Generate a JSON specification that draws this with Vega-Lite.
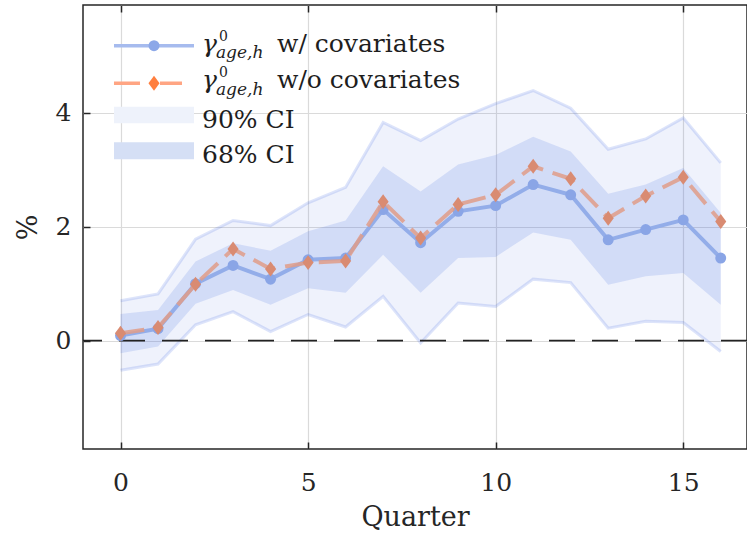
{
  "$schema": "https://vega.github.io/schema/vega-lite/v6.json",
  "width": 664,
  "height": 444,
  "autosize": {"type": "none"},
  "padding": {"left": 83, "top": 5, "right": 0, "bottom": 86},
  "background": "white",
  "config": {
    "view": {"stroke": "#262626", "strokeWidth": 1.5},
    "axis": {
      "labelFont": "DejaVu Serif", "labelFontSize": 25, "labelColor": "#262626",
      "titleFont": "DejaVu Serif", "titleFontSize": 27, "titleFontWeight": "normal", "titleColor": "#262626",
      "tickColor": "#262626", "tickWidth": 1.5, "tickSize": -7, "domain": false,
      "gridColor": "#dadada", "gridWidth": 1.2
    },
    "text": {"font": "DejaVu Serif", "fontSize": 25, "align": "left", "baseline": "alphabetic", "color": "#1e1e1e"}
  },
  "datasets": {
    "irf": [
      {"q": 0, "b": 0.09, "o": 0.13, "lo90": -0.52, "hi90": 0.70, "lo68": -0.22, "hi68": 0.47},
      {"q": 1, "b": 0.21, "o": 0.23, "lo90": -0.41, "hi90": 0.82, "lo68": -0.10, "hi68": 0.54},
      {"q": 2, "b": 1.00, "o": 0.99, "lo90": 0.28, "hi90": 1.78, "lo68": 0.65, "hi68": 1.39},
      {"q": 3, "b": 1.32, "o": 1.61, "lo90": 0.51, "hi90": 2.11, "lo68": 0.89, "hi68": 1.71},
      {"q": 4, "b": 1.08, "o": 1.26, "lo90": 0.16, "hi90": 2.02, "lo68": 0.63, "hi68": 1.58},
      {"q": 5, "b": 1.42, "o": 1.37, "lo90": 0.46, "hi90": 2.42, "lo68": 0.92, "hi68": 1.92},
      {"q": 6, "b": 1.45, "o": 1.40, "lo90": 0.24, "hi90": 2.69, "lo68": 0.84, "hi68": 2.11},
      {"q": 7, "b": 2.30, "o": 2.44, "lo90": 0.78, "hi90": 3.83, "lo68": 1.51, "hi68": 3.06},
      {"q": 8, "b": 1.72, "o": 1.80, "lo90": -0.04, "hi90": 3.51, "lo68": 0.84, "hi68": 2.62},
      {"q": 9, "b": 2.27, "o": 2.39, "lo90": 0.66, "hi90": 3.89, "lo68": 1.45, "hi68": 3.09},
      {"q": 10, "b": 2.37, "o": 2.56, "lo90": 0.60, "hi90": 4.16, "lo68": 1.47, "hi68": 3.26},
      {"q": 11, "b": 2.74, "o": 3.06, "lo90": 1.08, "hi90": 4.39, "lo68": 1.90, "hi68": 3.58},
      {"q": 12, "b": 2.56, "o": 2.84, "lo90": 1.02, "hi90": 4.08, "lo68": 1.77, "hi68": 3.32},
      {"q": 13, "b": 1.77, "o": 2.15, "lo90": 0.22, "hi90": 3.36, "lo68": 0.98, "hi68": 2.58},
      {"q": 14, "b": 1.95, "o": 2.54, "lo90": 0.34, "hi90": 3.54, "lo68": 1.13, "hi68": 2.74},
      {"q": 15, "b": 2.12, "o": 2.87, "lo90": 0.32, "hi90": 3.91, "lo68": 1.19, "hi68": 3.03},
      {"q": 16, "b": 1.45, "o": 2.09, "lo90": -0.19, "hi90": 3.12, "lo68": 0.63, "hi68": 2.24}
    ]
  },
  "layer": [
    {
      "data": {"name": "irf"},
      "mark": {"type": "area", "fill": "#4169e1", "fillOpacity": 0.085},
      "encoding": {
        "x": {"field": "q", "type": "quantitative",
          "scale": {"domain": [-1, 16.7], "nice": false, "zero": false},
          "axis": {"orient": "bottom", "values": [0, 5, 10, 15], "format": "d", "title": "Quarter", "grid": true, "labelPadding": 28, "titlePadding": 9}},
        "y": {"field": "lo90", "type": "quantitative",
          "scale": {"domain": [-1.9, 5.89], "nice": false, "zero": false},
          "axis": {"orient": "left", "values": [0, 2, 4], "format": "d", "title": "%", "grid": true, "labelPadding": 19, "titlePadding": 13}},
        "y2": {"field": "hi90"}
      }
    },
    {
      "data": {"name": "irf"},
      "mark": {"type": "line", "stroke": "#4169e1", "strokeOpacity": 0.18, "strokeWidth": 3},
      "encoding": {
        "x": {"field": "q", "type": "quantitative",
          "axis": {"orient": "top", "values": [0, 5, 10, 15], "labels": false, "title": null, "grid": false}},
        "y": {"field": "hi90", "type": "quantitative"}
      }
    },
    {
      "data": {"name": "irf"},
      "mark": {"type": "line", "stroke": "#4169e1", "strokeOpacity": 0.18, "strokeWidth": 3},
      "encoding": {
        "x": {"field": "q", "type": "quantitative", "axis": null},
        "y": {"field": "lo90", "type": "quantitative"}
      }
    },
    {
      "data": {"name": "irf"},
      "mark": {"type": "area", "fill": "#4169e1", "fillOpacity": 0.16},
      "encoding": {
        "x": {"field": "q", "type": "quantitative", "axis": null},
        "y": {"field": "lo68", "type": "quantitative"},
        "y2": {"field": "hi68"}
      }
    },
    {
      "data": {"values": [{}]},
      "mark": {"type": "rule", "stroke": "#222222", "strokeWidth": 1.8, "strokeDash": [26, 17]},
      "encoding": {
        "y": {"datum": 0, "type": "quantitative"}
      }
    },
    {
      "data": {"name": "irf"},
      "mark": {"type": "line", "stroke": "#93ade9", "strokeWidth": 4},
      "encoding": {
        "x": {"field": "q", "type": "quantitative", "axis": null},
        "y": {"field": "b", "type": "quantitative"}
      }
    },
    {
      "data": {"name": "irf"},
      "mark": {"type": "point", "shape": "circle", "filled": true, "fill": "#8aa5e6", "opacity": 1, "size": 120},
      "encoding": {
        "x": {"field": "q", "type": "quantitative", "axis": null},
        "y": {"field": "b", "type": "quantitative"}
      }
    },
    {
      "data": {"name": "irf"},
      "mark": {"type": "line", "stroke": "#e09c88", "strokeOpacity": 0.85, "strokeWidth": 4, "strokeDash": [24, 10]},
      "encoding": {
        "x": {"field": "q", "type": "quantitative", "axis": null},
        "y": {"field": "o", "type": "quantitative"}
      }
    },
    {
      "data": {"name": "irf"},
      "mark": {"type": "point", "shape": "M0,-1.15L0.85,0L0,1.15L-0.85,0Z", "filled": true, "fill": "#d98b72", "opacity": 1, "size": 170},
      "encoding": {
        "x": {"field": "q", "type": "quantitative", "axis": null},
        "y": {"field": "o", "type": "quantitative"}
      }
    },
    {
      "data": {"values": [{}]},
      "mark": {"type": "rect", "fill": "#eef2fb"},
      "encoding": {
        "x": {"datum": -0.174, "type": "quantitative", "axis": null}, "x2": {"datum": 1.959},
        "y": {"datum": 4.106, "type": "quantitative"}, "y2": {"datum": 3.815}
      }
    },
    {
      "data": {"values": [{}]},
      "mark": {"type": "rect", "fill": "#d5dff5"},
      "encoding": {
        "x": {"datum": -0.174, "type": "quantitative", "axis": null}, "x2": {"datum": 1.959},
        "y": {"datum": 3.481, "type": "quantitative"}, "y2": {"datum": 3.183}
      }
    },
    {
      "data": {"values": [{}]},
      "mark": {"type": "rule", "stroke": "#a6bbee", "strokeWidth": 3.5},
      "encoding": {
        "x": {"datum": -0.174, "type": "quantitative", "axis": null}, "x2": {"datum": 1.959},
        "y": {"datum": 5.176, "type": "quantitative"}
      }
    },
    {
      "data": {"values": [{}]},
      "mark": {"type": "point", "shape": "circle", "filled": true, "fill": "#8da8e8", "opacity": 1, "size": 120},
      "encoding": {
        "x": {"datum": 0.893, "type": "quantitative", "axis": null},
        "y": {"datum": 5.176, "type": "quantitative"}
      }
    },
    {
      "data": {"values": [{}]},
      "mark": {"type": "rule", "stroke": "#ffa583", "strokeWidth": 3.5, "strokeDash": [26, 20]},
      "encoding": {
        "x": {"datum": -0.174, "type": "quantitative", "axis": null}, "x2": {"datum": 1.639},
        "y": {"datum": 4.516, "type": "quantitative"}
      }
    },
    {
      "data": {"values": [{}]},
      "mark": {"type": "point", "shape": "M0,-1.15L0.85,0L0,1.15L-0.85,0Z", "filled": true, "fill": "#ff7f3f", "opacity": 1, "size": 170},
      "encoding": {
        "x": {"datum": 0.893, "type": "quantitative", "axis": null},
        "y": {"datum": 4.516, "type": "quantitative"}
      }
    },
    {
      "data": {"values": [{}]},
      "mark": {"type": "text", "text": "γ", "fontStyle": "italic"},
      "encoding": {"x": {"datum": 2.172, "type": "quantitative", "axis": null}, "y": {"datum": 5.071, "type": "quantitative"}}
    },
    {
      "data": {"values": [{}]},
      "mark": {"type": "text", "text": "γ", "fontStyle": "italic"},
      "encoding": {"x": {"datum": 2.172, "type": "quantitative", "axis": null}, "y": {"datum": 4.429, "type": "quantitative"}}
    },
    {
      "data": {"values": [{}]},
      "mark": {"type": "text", "text": "0", "fontSize": 14},
      "encoding": {"x": {"datum": 2.625, "type": "quantitative", "axis": null}, "y": {"datum": 5.267, "type": "quantitative"}}
    },
    {
      "data": {"values": [{}]},
      "mark": {"type": "text", "text": "0", "fontSize": 14},
      "encoding": {"x": {"datum": 2.625, "type": "quantitative", "axis": null}, "y": {"datum": 4.625, "type": "quantitative"}}
    },
    {
      "data": {"values": [{}]},
      "mark": {"type": "text", "text": "age,h", "fontSize": 17, "fontStyle": "italic"},
      "encoding": {"x": {"datum": 2.545, "type": "quantitative", "axis": null}, "y": {"datum": 4.955, "type": "quantitative"}}
    },
    {
      "data": {"values": [{}]},
      "mark": {"type": "text", "text": "age,h", "fontSize": 17, "fontStyle": "italic"},
      "encoding": {"x": {"datum": 2.545, "type": "quantitative", "axis": null}, "y": {"datum": 4.313, "type": "quantitative"}}
    },
    {
      "data": {"values": [{}]},
      "mark": {"type": "text", "text": "w/ covariates"},
      "encoding": {"x": {"datum": 4.171, "type": "quantitative", "axis": null}, "y": {"datum": 5.071, "type": "quantitative"}}
    },
    {
      "data": {"values": [{}]},
      "mark": {"type": "text", "text": "w/o covariates"},
      "encoding": {"x": {"datum": 4.171, "type": "quantitative", "axis": null}, "y": {"datum": 4.429, "type": "quantitative"}}
    },
    {
      "data": {"values": [{}]},
      "mark": {"type": "text", "text": "90% CI"},
      "encoding": {"x": {"datum": 2.172, "type": "quantitative", "axis": null}, "y": {"datum": 3.737, "type": "quantitative"}}
    },
    {
      "data": {"values": [{}]},
      "mark": {"type": "text", "text": "68% CI"},
      "encoding": {"x": {"datum": 2.172, "type": "quantitative", "axis": null}, "y": {"datum": 3.113, "type": "quantitative"}}
    }
  ]
}
